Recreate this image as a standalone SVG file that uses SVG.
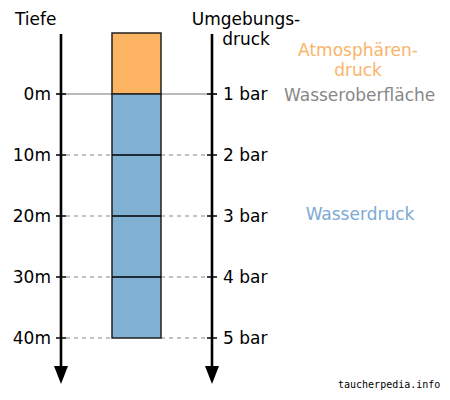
<svg xmlns="http://www.w3.org/2000/svg" width="450" height="400" viewBox="0 0 450 400">
<defs>
<style>
.t{font-family:"DejaVu Sans",Verdana,sans-serif;font-size:17px;fill:#000}
.axis{stroke:#000;stroke-width:2.6;fill:none}
.tick{stroke:#000;stroke-width:1.5}
.dash{stroke:#888;stroke-width:1.2;stroke-dasharray:4 4;fill:none}
.sep{stroke:#000;stroke-width:1.5}
</style>
</defs>
<rect width="450" height="400" fill="#fff"/>
<g id="connectors">
<line x1="57" y1="94" x2="217" y2="94" stroke="#777" stroke-width="1.2"/>
<line class="dash" x1="66" y1="155" x2="112" y2="155"/>
<line class="dash" x1="161" y1="155" x2="207" y2="155"/>
<line class="dash" x1="66" y1="216" x2="112" y2="216"/>
<line class="dash" x1="161" y1="216" x2="207" y2="216"/>
<line class="dash" x1="66" y1="277" x2="112" y2="277"/>
<line class="dash" x1="161" y1="277" x2="207" y2="277"/>
<line class="dash" x1="66" y1="338" x2="112" y2="338"/>
<line class="dash" x1="161" y1="338" x2="207" y2="338"/>
</g>
<g id="column">
<rect x="112" y="33" width="49" height="61" fill="#FDB462" stroke="#222" stroke-width="1.5"/>
<rect x="112" y="94" width="49" height="244" fill="#80B1D3" stroke="#222" stroke-width="1.5"/>
<line class="sep" x1="112" y1="155" x2="161" y2="155"/>
<line class="sep" x1="112" y1="216" x2="161" y2="216"/>
<line class="sep" x1="112" y1="277" x2="161" y2="277"/>
</g>
<g id="depth-axis">
<line class="axis" x1="61" y1="34" x2="61" y2="370"/>
<polygon points="54,366 68,366 61,384" fill="#000"/>
<line class="tick" x1="56" y1="94" x2="66" y2="94"/>
<line class="tick" x1="56" y1="155" x2="66" y2="155"/>
<line class="tick" x1="56" y1="216" x2="66" y2="216"/>
<line class="tick" x1="56" y1="277" x2="66" y2="277"/>
<line class="tick" x1="56" y1="338" x2="66" y2="338"/>
<text class="t" x="15" y="25">Tiefe</text>
<text class="t" x="51" y="100" text-anchor="end">0m</text>
<text class="t" x="51" y="161" text-anchor="end">10m</text>
<text class="t" x="51" y="222" text-anchor="end">20m</text>
<text class="t" x="51" y="283" text-anchor="end">30m</text>
<text class="t" x="51" y="344" text-anchor="end">40m</text>
</g>
<g id="pressure-axis">
<line class="axis" x1="212" y1="34" x2="212" y2="370"/>
<polygon points="205,366 219,366 212,384" fill="#000"/>
<line class="tick" x1="207" y1="94" x2="217" y2="94"/>
<line class="tick" x1="207" y1="155" x2="217" y2="155"/>
<line class="tick" x1="207" y1="216" x2="217" y2="216"/>
<line class="tick" x1="207" y1="277" x2="217" y2="277"/>
<line class="tick" x1="207" y1="338" x2="217" y2="338"/>
<text class="t" x="246" y="25" text-anchor="middle">Umgebungs-</text>
<text class="t" x="246" y="45" text-anchor="middle">druck</text>
<text class="t" x="223" y="100">1 bar</text>
<text class="t" x="223" y="161">2 bar</text>
<text class="t" x="223" y="222">3 bar</text>
<text class="t" x="223" y="283">4 bar</text>
<text class="t" x="223" y="344">5 bar</text>
</g>
<g id="atmosphere-label">
<text class="t" x="358" y="56" text-anchor="middle" style="fill:#FAB46A">Atmosphären-</text>
<text class="t" x="358" y="76" text-anchor="middle" style="fill:#FAB46A">druck</text>
</g>
<g id="surface-label">
<text class="t" x="284" y="101" style="fill:#888">Wasseroberfläche</text>
</g>
<g id="water-label">
<text class="t" x="360" y="220" text-anchor="middle" style="fill:#7BAAD3">Wasserdruck</text>
</g>
<text x="338" y="388" font-family="'DejaVu Sans Mono',monospace" font-size="10" fill="#000">taucherpedia.info</text>
</svg>
